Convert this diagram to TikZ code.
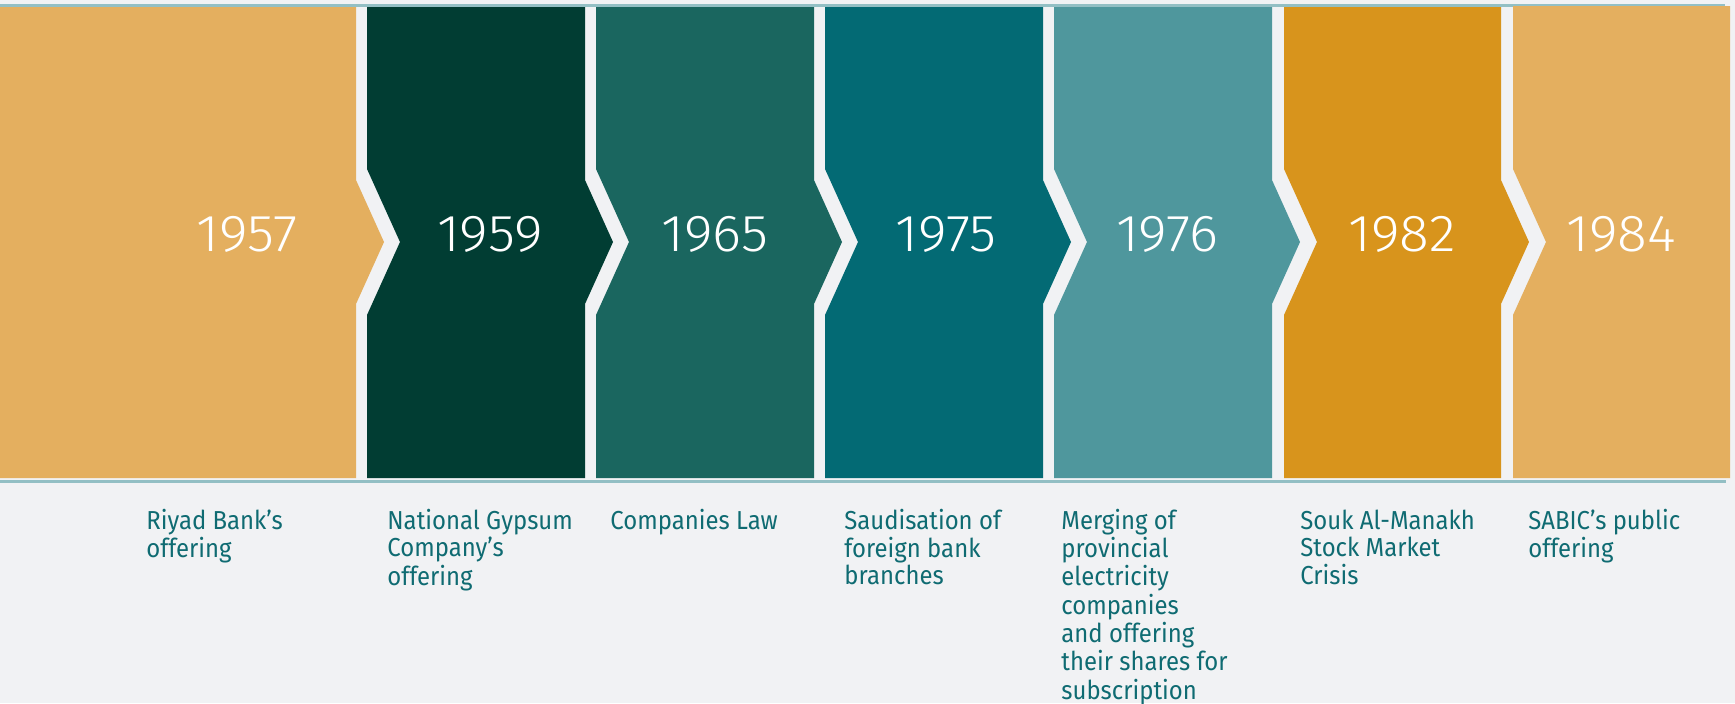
\documentclass[tikz,border=0pt]{standalone}
\usepackage{fontspec}
\setmainfont{Fira Sans}[FakeStretch=0.92]
\newfontfamily\yearfont{Fira Sans Light}[FakeStretch=1.06]
\definecolor{pagebg}{HTML}{F1F2F4}
\definecolor{rulec}{HTML}{93BFC4}
\definecolor{labelc}{HTML}{0F6B72}
\definecolor{sand}{HTML}{E4AF5F}
\definecolor{forest}{HTML}{013D33}
\definecolor{pine}{HTML}{1A665F}
\definecolor{petrol}{HTML}{036A74}
\definecolor{seafoam}{HTML}{4F979D}
\definecolor{amber}{HTML}{D8941C}
% left-aligned stack of lines whose baseline is the first line
\newcommand{\eventlines}[1]{\begin{tabular}[t]{@{}l@{}}#1\end{tabular}}
\begin{document}
\begin{tikzpicture}[x=0.5pt,y=-0.5pt,
  year/.style={font=\yearfont\fontsize{26pt}{26pt}\selectfont, text=white, inner sep=0pt, anchor=center},
  event/.style={font=\fontsize{13pt}{13.5pt}\selectfont, text=labelc, inner sep=0pt, anchor=base west},
  rule/.style={rulec, line width=1.5pt}]
\fill[pagebg] (0,0) rectangle (1735,703);
\useasboundingbox (0,0) rectangle (1735,703);

% thin rules above and below the band
\draw[rule] (0,5.5) -- (1725,5.5);
\draw[rule] (0,481.5) -- (1726,481.5);

% first block: flat left side, arrow tip on the right
\fill[sand] (0,7) -- (356,7) -- (356,180) -- (384,242) -- (356,304) -- (356,478) -- (0,478) -- cycle;

% middle blocks: notch on the left, arrow tip on the right
\foreach \L/\R/\c in {367/585/forest, 596/814/pine, 825/1043/petrol, 1054/1272/seafoam, 1284/1501/amber}
  \fill[\c] (\L,7) -- (\R,7) -- (\R,180) -- (\R+28,242) -- (\R,304) -- (\R,478)
            -- (\L,478) -- (\L,315) -- (\L+33,242) -- (\L,169) -- cycle;

% last block: notch only
\fill[sand] (1513,6) -- (1730,6) -- (1730,478) -- (1513,478) -- (1513,315) -- (1546,242) -- (1513,169) -- cycle;

% years
\node[year] (y1957) at (247,234) {1957};
\node[year] (y1959) at (490,234) {1959};
\node[year] (y1965) at (715,234) {1965};
\node[year] (y1975) at (946,234) {1975};
\node[year] (y1976) at (1167,234) {1976};
\node[year] (y1982) at (1402,234) {1982};
\node[year] (y1984) at (1621,234) {1984};

% events
\node[event] (e1957) at (146,529) {\eventlines{Riyad Bank’s\\offering}};
\node[event] (e1959) at (387,529) {\eventlines{National Gypsum\\Company’s\\offering}};
\node[event] (e1965) at (610,529) {\eventlines{Companies Law}};
\node[event] (e1975) at (844,529) {\eventlines{Saudisation of\\foreign bank\\branches}};
\node[event] (e1976) at (1061,529) {\eventlines{Merging of\\provincial\\electricity\\companies\\and offering\\their shares for\\subscription}};
\node[event] (e1982) at (1300,529) {\eventlines{Souk Al-Manakh\\Stock Market\\Crisis}};
\node[event] (e1984) at (1528,529) {\eventlines{SABIC’s public\\offering}};
\end{tikzpicture}
\end{document}
